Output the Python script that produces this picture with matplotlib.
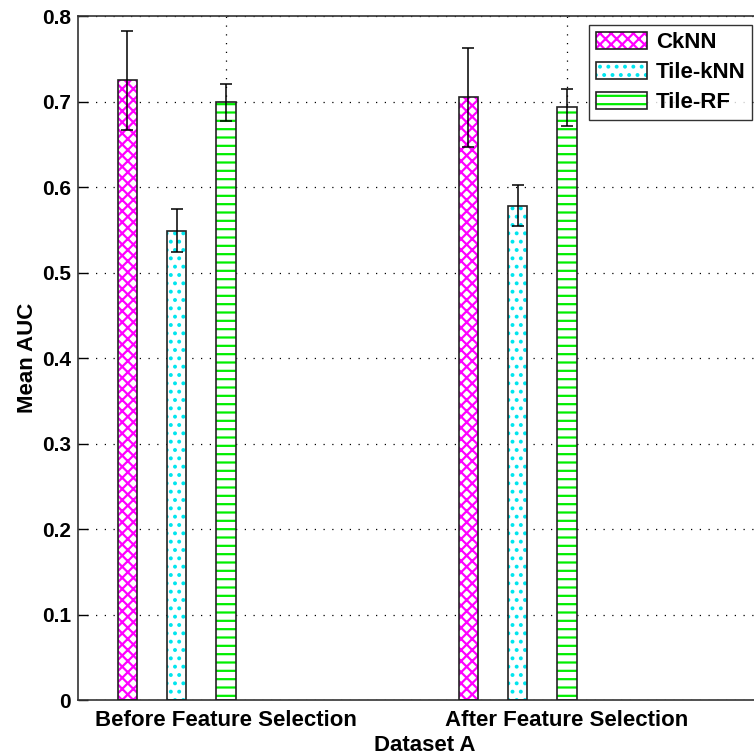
import matplotlib.pyplot as plt
from matplotlib.patches import Patch
from matplotlib.ticker import FuncFormatter
import numpy as np

plt.rcParams['font.family'] = ['Liberation Sans', 'DejaVu Sans']
plt.rcParams['font.weight'] = 'bold'
plt.rcParams['hatch.linewidth'] = 1.6

groups = ['Before Feature Selection', 'After Feature Selection']
methods = ['CkNN', 'Tile-kNN', 'Tile-RF']
mean_auc = {
    'CkNN': [0.725, 0.705],
    'Tile-kNN': [0.549, 0.578],
    'Tile-RF': [0.699, 0.693],
}
err_auc = {
    'CkNN': [0.058, 0.058],
    'Tile-kNN': [0.025, 0.024],
    'Tile-RF': [0.022, 0.022],
}

colors = {'CkNN': '#ff00ff', 'Tile-kNN': '#00e5ee', 'Tile-RF': '#00ee00'}
hatches = {'CkNN': 'xxx', 'Tile-kNN': '..', 'Tile-RF': '--'}
offsets = {'CkNN': -0.29, 'Tile-kNN': -0.145, 'Tile-RF': 0.0}
width = 0.056

fig = plt.figure(figsize=(7.54, 7.55), dpi=100)
ax = fig.add_axes([0.1034, 0.0728, 0.92, 0.906])

x = np.arange(1, len(groups) + 1)
handles = []
for m in methods:
    pos = x + offsets[m]
    # hatch layer first, then the dark outline on top
    ax.bar(pos, mean_auc[m], width, color='white', edgecolor=colors[m],
           hatch=hatches[m], linewidth=0, zorder=2)
    ax.bar(pos, mean_auc[m], width, fill=False, edgecolor='#222222',
           linewidth=1.2, zorder=3)
    ax.errorbar(pos, mean_auc[m], yerr=err_auc[m], fmt='none', ecolor='black',
                elinewidth=1.1, capsize=4, capthick=1.1, zorder=4)
    hp = Patch(facecolor='white', edgecolor=colors[m], hatch=hatches[m], linewidth=0)
    op = Patch(fill=False, edgecolor='#222222', linewidth=1.2)
    handles.append((hp, op))

ax.set_xlim(0.566, 2.6)
ax.set_ylim(0, 0.8)
ax.set_xticks(x)
ax.set_xticklabels(groups, fontsize=16, fontweight='bold')
ax.set_yticks(np.arange(0, 0.81, 0.1))
ax.yaxis.set_major_formatter(FuncFormatter(lambda v, p: '0' if abs(v) < 1e-9 else '%.1f' % v))
ax.tick_params(axis='y', labelsize=15, direction='in', length=7, width=1, pad=5)
ax.tick_params(axis='x', direction='in', length=0, pad=7)
for lab in ax.get_yticklabels():
    lab.set_fontweight('bold')

ax.grid(True, color='black', linestyle=(0, (1, 6)), linewidth=0.9, zorder=0)
ax.set_axisbelow(True)
for s in ax.spines.values():
    s.set_color('#333333')
    s.set_linewidth(1.2)

ax.set_ylabel('Mean AUC', fontsize=16, fontweight='bold', labelpad=3)
ax.set_xlabel('Dataset A', fontsize=16, fontweight='bold', labelpad=3)

leg = ax.legend(handles, methods, loc='upper right', bbox_to_anchor=(0.998, 0.967),
                bbox_transform=fig.transFigure, fontsize=16, frameon=True,
                fancybox=False, edgecolor='black', handlelength=2.3, handleheight=0.8,
                borderpad=0.3, labelspacing=0.4, handletextpad=0.4, borderaxespad=0)
leg.get_frame().set_linewidth(1.0)
for t in leg.get_texts():
    t.set_fontweight('bold')

plt.savefig('out.png', dpi=100)
